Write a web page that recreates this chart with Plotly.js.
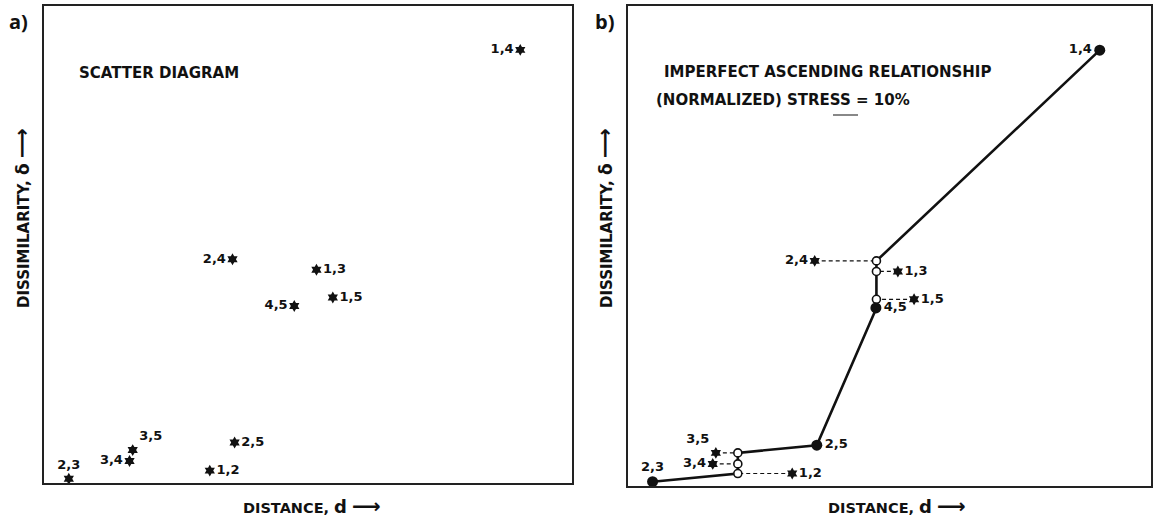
<!DOCTYPE html>
<html><head><meta charset="utf-8">
<script src="https://cdn.plot.ly/plotly-3.0.1.min.js"></script>
<style>html,body{margin:0;padding:0;background:#fff}#chart{width:1155px;height:520px}</style>
</head><body><div id="chart"></div>
<script>
// ---- data ----
const pairs = ['1,2','1,3','1,4','1,5','2,3','2,4','2,5','3,4','3,5','4,5'];
const distance = [31.4, 51.6, 90.2, 54.7, 4.7, 35.7, 36.1, 16.2, 16.8, 47.4];
const dissimilarity = [2.6, 44.7, 90.8, 38.9, 0.9, 46.9, 8.5, 4.6, 6.9, 37.1];
const fittedDistance = [21.0, 47.5, 90.2, 47.5, 4.7, 47.5, 36.1, 21.0, 21.0, 47.5];
const panelLabels = ['a)', 'b)'];
const panelATitle = 'SCATTER DIAGRAM';
const panelBTitle = ['IMPERFECT ASCENDING RELATIONSHIP', '(NORMALIZED) STRESS = 10%'];
const xTitle = 'DISTANCE, <span style="font-size:18px">d</span> <span style="font-size:20px">\u27F6</span>';
const yTitle = 'DISSIMILARITY, <span style="font-size:17px">\u03B4</span> <span style="font-size:21px">\u27F6</span>';

// ---- styles ----
const W = 1155, H = 520;
const px = x => x / W, py = y => 1 - y / H;
const ink = '#111';
const lab = {family: 'DejaVu Sans', size: 13, color: ink, weight: 'bold'};
const posA = {'1,2':'middle right','1,3':'middle right','1,4':'middle left','1,5':'middle right','2,3':'top center',
  '2,4':'middle left','2,5':'middle right','3,4':'middle left','3,5':'top right','4,5':'middle left'};
const posB = {'1,2':'middle right','1,3':'middle right','1,4':'middle left','1,5':'middle right','2,3':'top center',
  '2,4':'middle left','2,5':'middle right','3,4':'middle left','3,5':'top left','4,5':'middle right'};

const idx = pairs.map((_, i) => i);
const tied = idx.filter(i => Math.abs(fittedDistance[i] - distance[i]) < 0.5);
const off = idx.filter(i => Math.abs(fittedDistance[i] - distance[i]) >= 0.5);
const byDelta = idx.slice().sort((a, b) => dissimilarity[a] - dissimilarity[b]);

const pick = (arr, ii) => ii.map(i => arr[i]);
const traces = [];

// Panel a: scatter diagram
traces.push({
  x: distance, y: dissimilarity, text: pairs, xaxis: 'x', yaxis: 'y',
  mode: 'markers+text', type: 'scatter', cliponaxis: false,
  marker: {symbol: 'hexagram', size: 9, color: ink},
  textposition: pairs.map(p => posA[p]), textfont: lab, hoverinfo: 'skip'
});

// Panel b: dashed connectors
const dx = [], dy = [];
off.forEach(i => { dx.push(distance[i], fittedDistance[i], null); dy.push(dissimilarity[i], dissimilarity[i], null); });
traces.push({x: dx, y: dy, xaxis: 'x2', yaxis: 'y2', mode: 'lines', type: 'scatter',
  line: {color: ink, width: 1.2, dash: '4px,3px'}, hoverinfo: 'skip'});
// monotone fitted line
traces.push({x: pick(fittedDistance, byDelta), y: pick(dissimilarity, byDelta), xaxis: 'x2', yaxis: 'y2',
  mode: 'lines', type: 'scatter', line: {color: ink, width: 2.6}, hoverinfo: 'skip'});
// open circles at fitted values
traces.push({x: pick(fittedDistance, off), y: pick(dissimilarity, off), xaxis: 'x2', yaxis: 'y2',
  mode: 'markers', type: 'scatter', cliponaxis: false,
  marker: {symbol: 'circle', size: 8, color: '#fff', line: {color: ink, width: 1.6}}, hoverinfo: 'skip'});
// filled dots where point lies on the line
traces.push({x: pick(distance, tied), y: pick(dissimilarity, tied), text: pick(pairs, tied), xaxis: 'x2', yaxis: 'y2',
  mode: 'markers+text', type: 'scatter', cliponaxis: false,
  marker: {symbol: 'circle', size: 11, color: ink},
  textposition: pick(pairs, tied).map(p => posB[p]), textfont: lab, hoverinfo: 'skip'});
// stars for the other points
traces.push({x: pick(distance, off), y: pick(dissimilarity, off), text: pick(pairs, off), xaxis: 'x2', yaxis: 'y2',
  mode: 'markers+text', type: 'scatter', cliponaxis: false,
  marker: {symbol: 'hexagram', size: 9, color: ink},
  textposition: pick(pairs, off).map(p => posB[p]), textfont: lab, hoverinfo: 'skip'});

const ax = dom => ({domain: dom, range: [0, 100], showline: true, mirror: true, linecolor: '#222', linewidth: 1.6,
  showticklabels: false, ticks: '', showgrid: false, zeroline: false, fixedrange: true});

const tfont = {family: 'DejaVu Sans', size: 14, color: ink, weight: 'bold'};
const ann = (text, x, y, extra) => Object.assign({text, xref: 'paper', yref: 'paper', x: px(x), y: py(y),
  xanchor: 'left', yanchor: 'middle', showarrow: false, font: tfont}, extra || {});

const layout = {
  width: W, height: H, margin: {l: 0, r: 0, t: 0, b: 0},
  paper_bgcolor: '#fff', plot_bgcolor: '#fff', showlegend: false,
  xaxis: ax([px(44), px(572)]), yaxis: ax([py(483), py(6)]),
  xaxis2: Object.assign(ax([px(628), px(1151)]), {anchor: 'y2'}), yaxis2: Object.assign(ax([py(486), py(6)]), {anchor: 'x2'}),
  annotations: [
    ann(panelLabels[0], 7, 22, {font: {family: 'Open Sans', size: 20, color: ink, weight: 'bold'}}),
    ann(panelLabels[1], 593, 22, {font: {family: 'Open Sans', size: 20, color: ink, weight: 'bold'}}),
    ann(panelATitle, 77, 73, {font: Object.assign({}, tfont, {size: 15})}),
    ann(panelBTitle[0], 662, 72, {font: Object.assign({}, tfont, {size: 15})}),
    ann(panelBTitle[1], 654, 100, {font: Object.assign({}, tfont, {size: 15})}),
    ann(xTitle, 241, 506, {font: Object.assign({}, tfont, {size: 14.5})}),
    ann(xTitle, 826, 506, {font: Object.assign({}, tfont, {size: 14.5})}),
    ann(yTitle, 22, 218, {xanchor: 'center', textangle: -90, font: Object.assign({}, tfont, {size: 15})}),
    ann(yTitle, 605, 218, {xanchor: 'center', textangle: -90, font: Object.assign({}, tfont, {size: 15})})
  ],
  shapes: [{type: 'line', xref: 'paper', yref: 'paper', x0: px(833), x1: px(858), y0: py(115), y1: py(115),
    line: {color: '#888', width: 2}}]
};

Plotly.newPlot('chart', traces, layout, {staticPlot: true, displayModeBar: false});
</script>
</body></html>
